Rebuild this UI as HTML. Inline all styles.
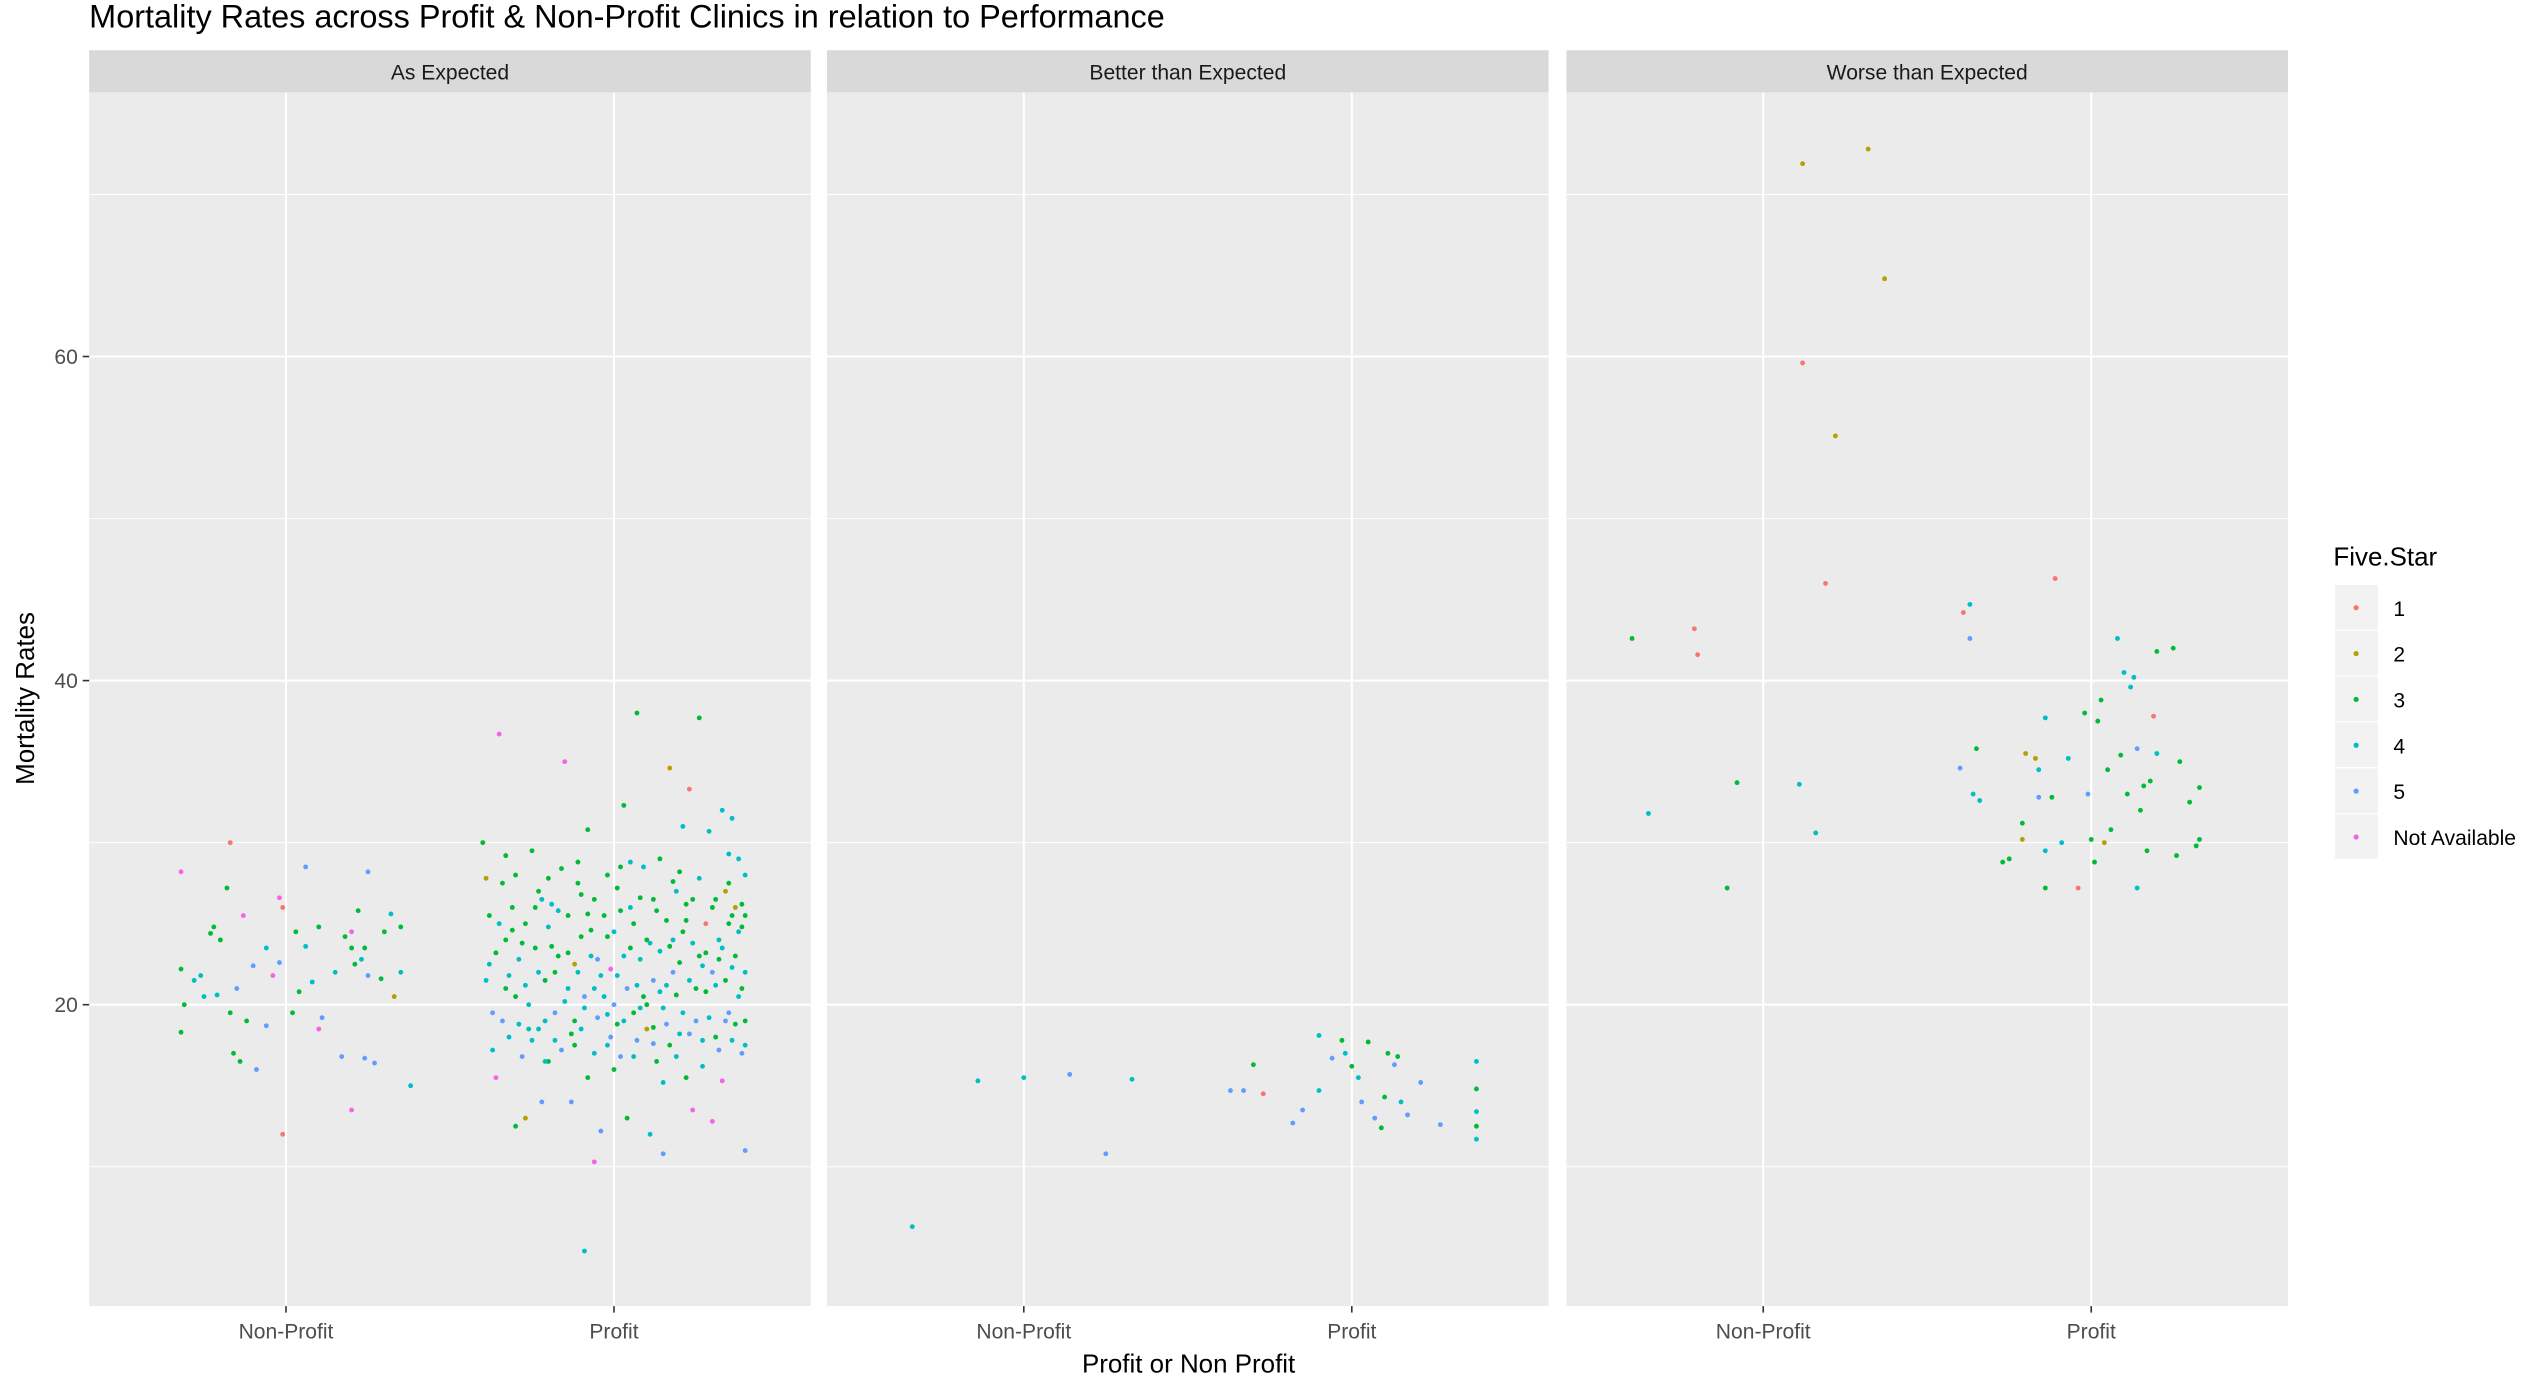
<!DOCTYPE html>
<html><head><meta charset="utf-8"><style>
html,body{margin:0;padding:0;background:#fff;width:2541px;height:1392px;overflow:hidden}
svg{display:block;font-family:"Liberation Sans",Arial,sans-serif}
</style></head><body>
<svg id="chart" width="2541" height="1392" viewBox="0 0 1567 859" preserveAspectRatio="none" xmlns="http://www.w3.org/2000/svg"></svg>
<script>
const panels = ["As Expected","Better than Expected","Worse than Expected"];
const categories = ["Non-Profit","Profit"];
const yTicks = [20,40,60];
const yMinor = [10,30,50,70];
const starLevels = ["1","2","3","4","5","Not Available"];
const starColors = ["#F8766D","#B79F00","#00BA38","#00BFC4","#619CFF","#F564E3"];
// [jitter (category units), mortality rate, star index 1..6]
const aeNonProfit = [[-.32,28.2,6],[-.17,30,1],[-.32,22.2,3],[-.31,20,3],[-.32,18.3,3],[-.28,21.5,4],[-.26,21.8,4],[-.23,24.4,3],[-.22,24.8,3],[-.21,20.6,4],[-.18,27.2,3],[-.17,19.5,3],[-.16,17,3],[-.14,16.5,3],[-.12,19,3],[-.09,16,5],[-.15,21,5],[-.13,25.5,6],[-.06,18.7,5],[-.06,23.5,4],[-.04,21.8,6],[-.02,22.6,5],[-.01,26,1],[-.02,26.6,6],[-.01,12,1],[.02,19.5,3],[.03,24.5,3],[.04,20.8,3],[.06,23.6,4],[.08,21.4,4],[.06,28.5,5],[.1,24.8,3],[.1,18.5,6],[.11,19.2,5],[.15,22,4],[.17,16.8,5],[.18,24.2,3],[.2,23.5,3],[.21,22.5,3],[.24,16.7,5],[.2,24.5,6],[.2,13.5,6],[.23,22.8,4],[.22,25.8,3],[.24,23.5,3],[.25,21.8,5],[.25,28.2,5],[.27,16.4,5],[.3,24.5,3],[.29,21.6,3],[.32,25.6,4],[.33,20.5,2],[.35,24.8,3],[.35,22,4],[.38,15,4],[-.25,20.5,4],[-.1,22.4,5],[-.2,24,3]];
const aeProfit = [[-.4,30,3],[-.39,27.8,2],[-.38,22.5,4],[-.37,19.5,5],[-.36,15.5,6],[-.35,36.7,6],[-.33,24,3],[-.33,21,3],[-.32,18,4],[-.31,26,3],[-.3,12.5,3],[-.3,28,3],[-.29,22.8,4],[-.28,16.8,5],[-.27,25,3],[-.27,13,2],[-.26,20,4],[-.25,29.5,3],[-.24,23.5,3],[-.23,18.5,4],[-.23,27,3],[-.22,14,5],[-.21,21.5,3],[-.2,24.8,4],[-.2,16.5,3],[-.19,26.2,4],[-.18,19.5,5],[-.17,23,3],[-.16,28.4,3],[-.16,17.2,5],[-.15,35,6],[-.14,21,4],[-.14,25.5,3],[-.13,14,5],[-.12,19,3],[-.12,22.5,2],[-.11,27.5,3],[-.1,18.5,4],[-.1,24.2,3],[-.09,4.8,4],[-.09,20.5,5],[-.08,30.8,3],[-.08,15.5,3],[-.07,23,4],[-.06,26.5,3],[-.06,10.3,6],[-.05,19.2,5],[-.04,21.8,4],[-.04,12.2,5],[-.03,25.5,3],[-.02,17.5,4],[-.02,28,3],[-.01,22.2,6],[0,20,5],[0,24.5,4],[.01,18.8,3],[.01,27.2,3],[.02,16.8,5],[.03,23,4],[.03,32.3,3],[.04,21,5],[.04,13,3],[.05,26,4],[.06,19.5,3],[.06,25,3],[.07,38,3],[.07,17.8,5],[.08,22.8,4],[.09,28.5,4],[.09,20.5,3],[.1,18.5,2],[.1,24,3],[.11,12,4],[.12,21.5,5],[.12,26.5,3],[.13,16.5,3],[.14,23.3,4],[.14,29,3],[.15,10.8,5],[.15,19.8,4],[.16,25.2,3],[.17,17.5,3],[.17,34.6,2],[.18,22,5],[.19,27,4],[.19,20.6,3],[.2,18.2,4],[.21,24.5,3],[.21,31,4],[.22,15.5,3],[.23,21.5,4],[.23,33.3,1],[.24,26.5,3],[.24,13.5,6],[.25,19,5],[.26,23,3],[.26,37.7,3],[.27,17.8,4],[.28,25,1],[.28,20.8,3],[.29,30.7,4],[.3,22,5],[.3,12.8,6],[.31,18,3],[.31,26.5,3],[.32,24,4],[.33,15.3,6],[.33,32,4],[.34,21.5,3],[.34,27,2],[.35,19.5,5],[.35,25,3],[.36,17.8,4],[.36,31.5,4],[.37,23,3],[.37,26,2],[.38,20.5,4],[.38,29,4],[.39,24.8,3],[.39,17,5],[.4,22,4],[.4,28,4],[.4,19,3],[.4,11,5],[-.35,25,4],[-.3,20.5,3],[-.22,26.5,4],[-.18,22,3],[-.12,17.5,3],[-.06,21,4],[.02,25.8,3],[.08,19.8,4],[.16,21.2,4],[.22,26.2,3],[.32,22.8,3],[.36,25.5,3],[-.26,18.5,4],[-.08,25.6,3],[.12,18.6,3],[.27,22.4,4],[.18,24,4],[-.02,19.4,4],
[-.39,21.5,4],[-.38,25.5,3],[-.37,17.2,4],[-.36,23.2,3],[-.34,19,5],[-.34,27.5,3],[-.32,21.8,4],[-.31,24.6,3],[-.29,18.8,4],[-.28,23.8,3],[-.27,21.2,4],[-.25,17.8,4],[-.24,26,3],[-.23,22,4],[-.21,19,4],[-.2,27.8,3],[-.19,23.6,3],[-.18,17.8,4],[-.17,25.8,4],[-.15,20.2,4],[-.14,23.2,3],[-.13,18.2,3],[-.11,22,4],[-.1,26.8,3],[-.09,19.8,4],[-.07,24.6,3],[-.06,17,4],[-.05,22.8,5],[-.03,20.5,4],[-.02,24.2,3],[-.01,18,5],[.01,21.8,4],[.02,28.5,3],[.03,19,4],[.05,23.5,3],[.06,16.8,4],[.07,21.2,4],[.08,26.6,3],[.1,20,3],[.11,23.8,4],[.12,17.6,5],[.13,25.8,3],[.14,20.8,4],[.16,18.8,5],[.17,23.6,3],[.18,27.6,3],[.19,16.8,4],[.2,22.6,3],[.21,19.5,4],[.22,25.2,3],[.23,18.2,5],[.24,23.8,4],[.25,21,3],[.26,27.8,4],[.27,16.2,4],[.28,23.2,3],[.29,19.2,4],[.3,26,3],[.31,21.2,4],[.32,17.2,5],[.33,23.5,4],[.34,19,5],[.35,27.5,3],[.36,22.3,4],[.37,18.8,3],[.38,24.5,4],[.39,21,3],[.4,25.5,3],[.4,17.5,4],[.39,26.2,3],[-.33,29.2,3],[-.11,28.8,3],[.05,28.8,4],[.2,28.2,3],[.35,29.3,4],[-.21,16.5,4],[.0,16,3],[.15,15.2,4]];
const beNonProfit = [[-.34,6.3,4],[-.14,15.3,4],[0,15.5,4],[.14,15.7,5],[.25,10.8,5],[.33,15.4,4]];
const beProfit = [[-.37,14.7,5],[-.33,14.7,5],[-.27,14.5,1],[-.3,16.3,3],[-.18,12.7,5],[-.15,13.5,5],[-.1,18.1,4],[-.1,14.7,4],[-.06,16.7,5],[-.03,17.8,3],[-.02,17,4],[0,16.2,3],[.02,15.5,4],[.03,14,5],[.05,17.7,3],[.07,13,5],[.09,12.4,3],[.1,14.3,3],[.11,17,3],[.13,16.3,5],[.15,14,4],[.17,13.2,5],[.21,15.2,5],[.27,12.6,5],[.38,16.5,4],[.38,14.8,3],[.38,13.4,4],[.38,12.5,3],[.38,11.7,4],[.14,16.8,3]];
const weNonProfit = [[-.4,42.6,3],[-.35,31.8,4],[-.21,43.2,1],[-.2,41.6,1],[-.11,27.2,3],[-.08,33.7,3],[.11,33.6,4],[.12,71.9,2],[.12,59.6,1],[.16,30.6,4],[.19,46,1],[.22,55.1,2],[.32,72.8,2],[.37,64.8,2]];
const weProfit = [[-.39,44.2,1],[-.37,44.7,4],[-.37,42.6,5],[-.4,34.6,5],[-.35,35.8,3],[-.36,33,4],[-.34,32.6,4],[-.2,35.5,2],[-.17,35.2,2],[-.21,30.2,2],[-.25,29,3],[-.27,28.8,3],[-.21,31.2,3],[-.16,34.5,4],[-.14,37.7,4],[-.11,46.3,1],[-.14,29.5,4],[-.14,27.2,3],[-.16,32.8,5],[-.12,32.8,3],[-.09,30,4],[-.07,35.2,4],[-.04,27.2,1],[-.02,38,3],[-.01,33,5],[0,30.2,3],[.02,37.5,3],[.03,38.8,3],[.01,28.8,3],[.04,30,2],[.05,34.5,3],[.06,30.8,3],[.09,35.4,3],[.1,40.5,4],[.08,42.6,4],[.11,33,3],[.12,39.6,4],[.13,40.2,4],[.14,35.8,5],[.14,27.2,4],[.15,32,3],[.16,33.5,3],[.18,33.8,3],[.19,37.8,1],[.2,35.5,4],[.2,41.8,3],[.25,42,3],[.26,29.2,3],[.27,35,3],[.3,32.5,3],[.33,33.4,3],[.33,30.2,3],[.32,29.8,3],[.17,29.5,3]];
const panelData = [[aeNonProfit,aeProfit],[beNonProfit,beProfit],[weNonProfit,weProfit]];

const NS="http://www.w3.org/2000/svg";
const svg=document.getElementById('chart');
function mk(tag,attrs,parent){const e=document.createElementNS(NS,tag);for(const k in attrs)e.setAttribute(k,attrs[k]);(parent||svg).appendChild(e);return e;}
const panelLeft=[55,510,966], panelW=445, plotTop=57, plotBottom=806;
const yMin=1.4, yMax=76.3;
function yScale(v){return plotBottom-(v-yMin)/(yMax-yMin)*(plotBottom-plotTop);}
function xScale(p,catIdx,j){return panelLeft[p]+(catIdx+1+j-0.4)/2.2*panelW;}

let t=mk('text',{x:55,y:17,'font-size':20,fill:'#000'});


t.textContent="Mortality Rates across Profit & Non-Profit Clinics in relation to Performance";

panels.forEach((name,p)=>{
  const L=panelLeft[p];
  const g=mk('g',{});
  
  
  mk('rect',{x:L,y:plotTop,width:panelW,height:plotBottom-plotTop,fill:'#EBEBEB'},g);
  yMinor.forEach(v=>mk('line',{x1:L,x2:L+panelW,y1:yScale(v),y2:yScale(v),stroke:'#fff','stroke-width':0.6},g));
  yTicks.forEach(v=>mk('line',{x1:L,x2:L+panelW,y1:yScale(v),y2:yScale(v),stroke:'#fff','stroke-width':1.3},g));
  categories.forEach((c,ci)=>{
    const x=xScale(p,ci,0);
    mk('line',{x1:x,x2:x,y1:plotTop,y2:plotBottom,stroke:'#fff','stroke-width':1.3},g);
    mk('line',{x1:x,x2:x,y1:plotBottom,y2:plotBottom+4,stroke:'#333','stroke-width':1},g);
    const tl=mk('text',{x:x,y:826,'font-size':13,fill:'#4D4D4D','text-anchor':'middle'},g);
    
    
    tl.textContent=c;
  });
  const strip=mk('rect',{x:L,y:31,width:panelW,height:26,fill:'#D9D9D9'},g);
  
  
  const st=mk('text',{x:L+panelW/2,y:49,'font-size':13,fill:'#1A1A1A','text-anchor':'middle'},g);
  
  
  st.textContent=name;
  panelData[p].forEach((pts,ci)=>{
    pts.forEach(d=>{
      const c=mk('circle',{cx:xScale(p,ci,d[0]),cy:yScale(d[1]),r:1.5,fill:starColors[d[2]-1]},g);
      
      
    });
  });
});
yTicks.forEach(v=>{
  mk('line',{x1:51,x2:55,y1:yScale(v),y2:yScale(v),stroke:'#333','stroke-width':1});
  const tl=mk('text',{x:48,y:yScale(v)+4.5,'font-size':13,fill:'#4D4D4D','text-anchor':'end'});
  
  
  tl.textContent=v;
});
let xt=mk('text',{x:733,y:847,'font-size':16,fill:'#000','text-anchor':'middle'});


xt.textContent="Profit or Non Profit";
let yt=mk('text',{x:0,y:0,'font-size':16,fill:'#000','text-anchor':'middle',transform:'translate(21,431) rotate(-90)'});


yt.textContent="Mortality Rates";
const lg=mk('g',{});


let lt=mk('text',{x:1439,y:349,'font-size':16,fill:'#000'},lg);


lt.textContent="Five.Star";
starLevels.forEach((s,i)=>{
  const y=361+i*28.3;
  const k=mk('rect',{x:1440,y:y,width:26.5,height:27.5,fill:'#F2F2F2'},lg);
  
  
  mk('circle',{cx:1453,cy:y+14,r:1.6,fill:starColors[i]},lg);
  const tx=mk('text',{x:1476,y:y+19,'font-size':13,fill:'#000'},lg);
  
  
  tx.textContent=s;
});
</script>
</body></html>
